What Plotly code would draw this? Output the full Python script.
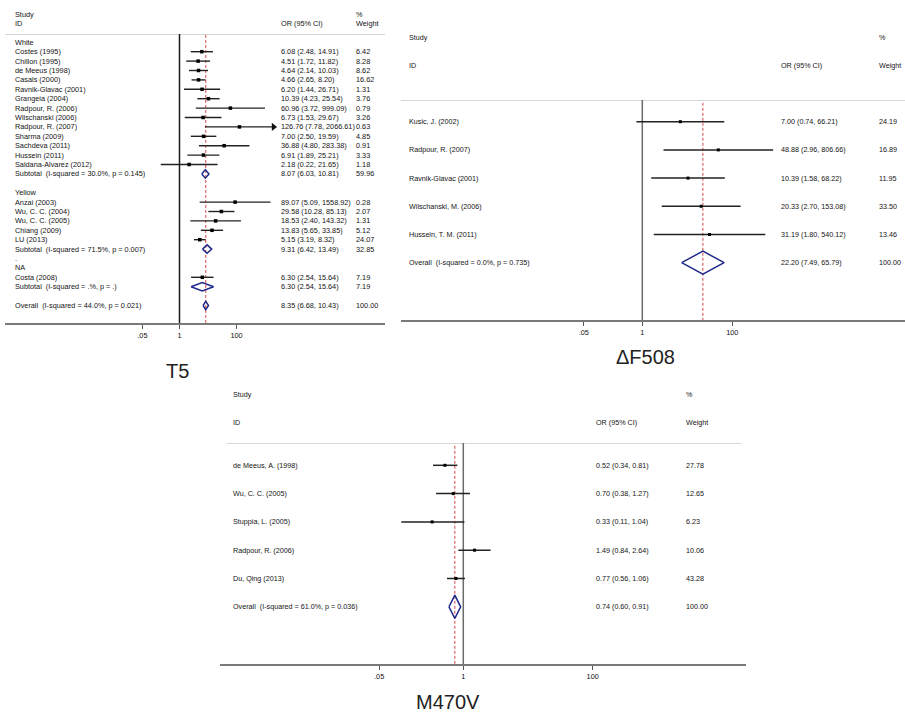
import plotly.graph_objects as go

# ---------------- T5 ----------------
t5_groups = ["White", "Yellow", "NA"]

t5_white_ids = ["Costes (1995)", "Chillon (1995)", "de Meeus (1998)", "Casals (2000)",
                "Ravnik-Glavac (2001)", "Grangeia (2004)", "Radpour, R. (2006)",
                "Wilschanski (2006)", "Radpour, R. (2007)", "Sharma (2009)",
                "Sachdeva (2011)", "Hussein (2011)", "Saldana-Alvarez (2012)"]
t5_white_or = [6.08, 4.51, 4.64, 4.66, 6.20, 10.39, 60.96, 6.73, 126.76, 7.00, 36.88, 6.91, 2.18]
t5_white_lo = [2.48, 1.72, 2.14, 2.65, 1.44, 4.23, 3.72, 1.53, 7.78, 2.50, 4.80, 1.89, 0.22]
t5_white_hi = [14.91, 11.82, 10.03, 8.20, 26.71, 25.54, 999.09, 29.67, 2066.61, 19.59, 283.38, 25.21, 21.65]
t5_white_wt = [6.42, 8.28, 8.62, 16.62, 1.31, 3.76, 0.79, 3.26, 0.63, 4.85, 0.91, 3.33, 1.18]

t5_yellow_ids = ["Anzai (2003)", "Wu, C. C. (2004)", "Wu, C. C. (2005)", "Chiang (2009)", "LU (2013)"]
t5_yellow_or = [89.07, 29.58, 18.53, 13.83, 5.15]
t5_yellow_lo = [5.09, 10.28, 2.40, 5.65, 3.19]
t5_yellow_hi = [1558.92, 85.13, 143.32, 33.85, 8.32]
t5_yellow_wt = [0.28, 2.07, 1.31, 5.12, 24.07]

t5_na_ids = ["Costa (2008)"]
t5_na_or = [6.30]
t5_na_lo = [2.54]
t5_na_hi = [15.64]
t5_na_wt = [7.19]

t5_sub_labels = ["Subtotal\u00a0 (I-squared = 30.0%, p = 0.145)",
                 "Subtotal\u00a0 (I-squared = 71.5%, p = 0.007)",
                 "Subtotal\u00a0 (I-squared = .%, p = .)"]
t5_sub_or = [8.07, 9.31, 6.30]
t5_sub_lo = [6.03, 6.42, 2.54]
t5_sub_hi = [10.81, 13.49, 15.64]
t5_sub_wt = [59.96, 32.85, 7.19]

t5_overall_label = "Overall\u00a0 (I-squared = 44.0%, p = 0.021)"
t5_overall = [8.35, 6.68, 10.43, 100.00]
t5_clip_hi = 2000  # upper end of the T5 axis; longer CIs end in an arrow

# ---------------- ΔF508 ----------------
df_ids = ["Kusic, J. (2002)", "Radpour, R. (2007)", "Ravnik-Glavac (2001)",
          "Wilschanski, M. (2006)", "Hussein, T. M. (2011)"]
df_or = [7.00, 48.88, 10.39, 20.33, 31.19]
df_lo = [0.74, 2.96, 1.58, 2.70, 1.80]
df_hi = [66.21, 806.66, 68.22, 153.08, 540.12]
df_wt = [24.19, 16.89, 11.95, 33.50, 13.46]
df_overall_label = "Overall\u00a0 (I-squared = 0.0%, p = 0.735)"
df_overall = [22.20, 7.49, 65.79, 100.00]

# ---------------- M470V ----------------
m4_ids = ["de Meeus, A. (1998)", "Wu, C. C. (2005)", "Stuppia, L. (2005)",
          "Radpour, R. (2006)", "Du, Qing (2013)"]
m4_or = [0.52, 0.70, 0.33, 1.49, 0.77]
m4_lo = [0.34, 0.38, 0.11, 0.84, 0.56]
m4_hi = [0.81, 1.27, 1.04, 2.64, 1.06]
m4_wt = [27.78, 12.65, 6.23, 10.06, 43.28]
m4_overall_label = "Overall\u00a0 (I-squared = 61.0%, p = 0.036)"
m4_overall = [0.74, 0.60, 0.91, 100.00]

tick_vals = [0.05, 1, 100]
tick_text = [".05", "1", "100"]

# ---------------- layout helpers ----------------
W, H = 905, 717
FONT = "Liberation Sans, Arial, sans-serif"
TXT = "#141414"
NAVY = "#1f2a8a"
RED = "#d84848"


def fx(px):
    return px / W


def fy(py):
    return 1 - py / H


def ci_text(o, lo, hi):
    return f"{o:.2f} ({lo:.2f}, {hi:.2f})"


fig = go.Figure()
annotations = []
edge_masks = []


def add_text(text, x_px, y, yref, size, anchor="left"):
    annotations.append(dict(text=text, x=fx(x_px), y=y, xref="paper", yref=yref,
                            xanchor=anchor, yanchor="middle", showarrow=False,
                            font=dict(family=FONT, size=size, color=TXT)))


def mask_left_edge(x_px, top_px, bot_px):
    """white strip keeping the panel's left edge free of any frame line"""
    edge_masks.append(dict(text="\u00a0", x=fx(x_px), y=fy((top_px + bot_px) / 2),
                           xref="paper", yref="paper", xanchor="center", yanchor="middle",
                           showarrow=False, bgcolor="white", borderpad=0, borderwidth=0,
                           width=7, height=bot_px - top_px - 5,
                           font=dict(family=FONT, size=1, color="white")))


def header_rule(ax, x0_px, x1_px, one_px, ppd, row):
    """light grey rule under the column headings, drawn on the panel's own axes"""
    xa = "x" if ax == 1 else f"x{ax}"
    ya = "y" if ax == 1 else f"y{ax}"
    xs = [10 ** ((x0_px - one_px) / ppd), 10 ** ((x1_px - one_px) / ppd)]
    fig.add_trace(go.Scatter(x=xs, y=[row, row], mode="lines", xaxis=xa, yaxis=ya,
                             cliponaxis=False, line=dict(color="#d6d6d6", width=2),
                             hoverinfo="skip"))


def panel(ax, studies, diamonds, overall_or, yrange, clip_hi=None,
          box=4, dh=0.42, lw=1.5, null_color="#2b2b2b"):
    """studies / diamonds: tuples (row, or, lo, hi)"""
    xa = "x" if ax == 1 else f"x{ax}"
    ya = "y" if ax == 1 else f"y{ax}"
    top, bottom = yrange[1], yrange[0]
    # null line at OR = 1 and dashed line at the pooled estimate
    fig.add_trace(go.Scatter(x=[1, 1], y=[top, bottom], mode="lines", xaxis=xa, yaxis=ya,
                             line=dict(color=null_color, width=1.5), hoverinfo="skip"))
    fig.add_trace(go.Scatter(x=[overall_or, overall_or], y=[top + 0.1, bottom], mode="lines",
                             xaxis=xa, yaxis=ya,
                             line=dict(color=RED, width=1, dash="3px,2px"), hoverinfo="skip"))
    # confidence intervals
    cx, cy, arrows = [], [], []
    for r, o, lo, hi in studies:
        end = hi
        if clip_hi is not None and hi > clip_hi:
            end = clip_hi
            arrows.append((r, clip_hi))
        cx += [lo, end, None]
        cy += [r, r, None]
    fig.add_trace(go.Scatter(x=cx, y=cy, mode="lines", xaxis=xa, yaxis=ya,
                             line=dict(color="#222", width=lw), hoverinfo="skip"))
    fig.add_trace(go.Scatter(x=[s[1] for s in studies], y=[s[0] for s in studies],
                             mode="markers", xaxis=xa, yaxis=ya,
                             marker=dict(symbol="square", size=box, color="#000"),
                             hoverinfo="skip"))
    if arrows:
        fig.add_trace(go.Scatter(x=[a[1] for a in arrows], y=[a[0] for a in arrows],
                                 mode="markers", xaxis=xa, yaxis=ya,
                                 marker=dict(symbol="triangle-right", size=7, color="#111"),
                                 hoverinfo="skip"))
    # pooled diamonds
    dx, dy = [], []
    for r, o, lo, hi in diamonds:
        dx += [lo, o, hi, o, lo, None]
        dy += [r, r - dh, r, r + dh, r, None]
    fig.add_trace(go.Scatter(x=dx, y=dy, mode="lines", xaxis=xa, yaxis=ya,
                             line=dict(color=NAVY, width=1.5), hoverinfo="skip"))


def axis_pair(ax, x0, x1, one_px, px_per_dec, y_top, y_bot, yrange):
    xr = [(x0 - one_px) / px_per_dec, (x1 - one_px) / px_per_dec]
    xk = "xaxis" if ax == 1 else f"xaxis{ax}"
    yk = "yaxis" if ax == 1 else f"yaxis{ax}"
    ya = "y" if ax == 1 else f"y{ax}"
    xa = "x" if ax == 1 else f"x{ax}"
    return {
        xk: dict(type="log", domain=[fx(x0), fx(x1)], range=xr, anchor=ya,
                 showline=True, linecolor="#7a7a7a", linewidth=2, showgrid=False,
                 zeroline=False, ticks="outside", ticklen=4, tickwidth=1, tickcolor="#555",
                 tickvals=tick_vals, ticktext=tick_text,
                 tickfont=dict(family=FONT, size=7.3, color="#111"), fixedrange=True),
        yk: dict(domain=[fy(y_bot), fy(y_top)], range=yrange, anchor=xa, visible=False,
                 fixedrange=True),
    }


layout_axes = {}

# ======== T5 panel ========
T5_FS = 7.3
t5_step = 9.4
t5_y0 = 42.3
t5_top_px, t5_bot_px = 34, 323
t5_yr = [(t5_bot_px - t5_y0) / t5_step, (t5_top_px - t5_y0) / t5_step]
layout_axes.update(axis_pair(1, 5, 385, 179.5, 28.5, t5_top_px, t5_bot_px, t5_yr))

group_data = [
    (t5_white_ids, t5_white_or, t5_white_lo, t5_white_hi, t5_white_wt),
    (t5_yellow_ids, t5_yellow_or, t5_yellow_lo, t5_yellow_hi, t5_yellow_wt),
    (t5_na_ids, t5_na_or, t5_na_lo, t5_na_hi, t5_na_wt),
]
t5_studies, t5_diamonds = [], []
r = 0
for gi, (ids, ors, los, his, wts) in enumerate(group_data):
    if gi == 2:
        add_text(".", 13, r - 1, "y", T5_FS)
    add_text(t5_groups[gi], 13, r, "y", T5_FS)
    r += 1
    for name, o, lo, hi, w in zip(ids, ors, los, his, wts):
        add_text(name, 13, r, "y", T5_FS)
        add_text(ci_text(o, lo, hi), 279.3, r, "y", T5_FS)
        add_text(f"{w:.2f}", 354, r, "y", T5_FS)
        t5_studies.append((r, o, lo, hi))
        r += 1
    add_text(t5_sub_labels[gi], 13, r, "y", T5_FS)
    add_text(ci_text(t5_sub_or[gi], t5_sub_lo[gi], t5_sub_hi[gi]), 279.3, r, "y", T5_FS)
    add_text(f"{t5_sub_wt[gi]:.2f}", 354, r, "y", T5_FS)
    t5_diamonds.append((r, t5_sub_or[gi], t5_sub_lo[gi], t5_sub_hi[gi]))
    r += 2
add_text(t5_overall_label, 13, r, "y", T5_FS)
add_text(ci_text(*t5_overall[:3]), 279.3, r, "y", T5_FS)
add_text(f"{t5_overall[3]:.2f}", 354, r, "y", T5_FS)
t5_diamonds.append((r, *t5_overall[:3]))

header_rule(1, 5, 385, 179.5, 28.5, t5_yr[1])
panel(1, t5_studies, t5_diamonds, t5_overall[0], t5_yr, clip_hi=t5_clip_hi,
      box=3.5, dh=0.45, lw=1.4, null_color="#1a1a1a")
for txt, xp, yp in [("Study", 13, 14), ("ID", 13, 23), ("OR (95% CI)", 279.3, 23),
                    ("%", 354, 14), ("Weight", 354, 23)]:
    add_text(txt, xp, fy(yp), "paper", T5_FS)
annotations.append(dict(text="T5", x=fx(177), y=fy(371), xref="paper", yref="paper",
                        showarrow=False, xanchor="center", yanchor="middle",
                        font=dict(family=FONT, size=20, color="#222")))


# ======== two-column panels (ΔF508, M470V) ========
def simple_panel(ax, ids, ors, los, his, wts, ov_label, ov, x0, x1, one_px, ppd,
                 top_px, bot_px, row0_px, step, lab_x, or_x, wt_x, head_y, title, title_xy,
                 rule_px):
    FS = 7.2
    yr = [(bot_px - row0_px) / step, (top_px - row0_px) / step]
    layout_axes.update(axis_pair(ax, x0, x1, one_px, ppd, top_px, bot_px, yr))
    ya = "y" if ax == 1 else f"y{ax}"
    studies = []
    for i, (name, o, lo, hi, w) in enumerate(zip(ids, ors, los, his, wts)):
        add_text(name, lab_x, i, ya, FS)
        add_text(ci_text(o, lo, hi), or_x, i, ya, FS)
        add_text(f"{w:.2f}", wt_x, i, ya, FS)
        studies.append((i, o, lo, hi))
    n = len(ids)
    add_text(ov_label, lab_x, n, ya, FS)
    add_text(ci_text(*ov[:3]), or_x, n, ya, FS)
    add_text(f"{ov[3]:.2f}", wt_x, n, ya, FS)
    header_rule(ax, rule_px[0], rule_px[1], one_px, ppd, yr[1])
    panel(ax, studies, [(n, *ov[:3])], ov[0], yr, box=3, dh=0.41, lw=1.5,
          null_color="#6a6a6a")
    mask_left_edge(x0, top_px, bot_px)
    for txt, xp, yp in [("Study", lab_x, head_y[0]), ("ID", lab_x, head_y[1]),
                        ("OR (95% CI)", or_x, head_y[1]), ("%", wt_x, head_y[0]),
                        ("Weight", wt_x, head_y[1])]:
        add_text(txt, xp, fy(yp), "paper", FS)
    annotations.append(dict(text=title, x=fx(title_xy[0]), y=fy(title_xy[1]),
                            xref="paper", yref="paper", showarrow=False,
                            xanchor="center", yanchor="middle",
                            font=dict(family=FONT, size=20, color="#222")))


simple_panel(2, df_ids, df_or, df_lo, df_hi, df_wt, df_overall_label, df_overall,
             401, 905, 642.3, 45.0, 100, 320, 121.7, 28.2,
             406.7, 779, 877, (37.3, 65.7), "ΔF508", (645, 357), (401, 905))

simple_panel(3, m4_ids, m4_or, m4_lo, m4_hi, m4_wt, m4_overall_label, m4_overall,
             220, 746, 463.3, 64.7, 443, 664, 465.3, 28.3,
             231, 594.3, 684, (394, 422.3), "M470V", (448, 702), (226.7, 741.7))

fig.update_layout(
    width=W, height=H,
    margin=dict(l=0, r=0, t=0, b=0),
    paper_bgcolor="white", plot_bgcolor="rgba(0,0,0,0)",
    showlegend=False,
    annotations=annotations + edge_masks,
    font=dict(family=FONT, color=TXT),
    **layout_axes,
)

fig.write_html("out.html")
